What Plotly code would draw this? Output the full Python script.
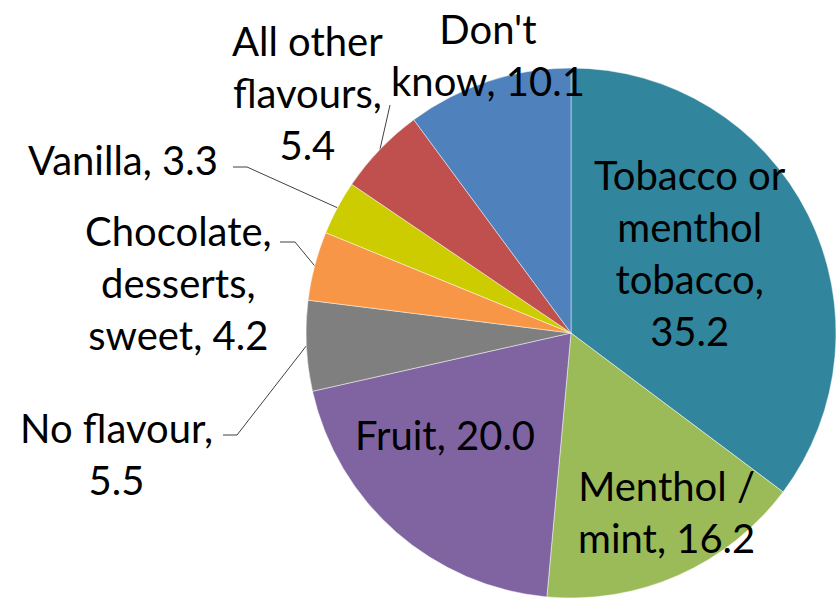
import math
import plotly.graph_objects as go

# Flavour shares (%) in clockwise order from 12 o'clock
categories = [
    "Tobacco or menthol tobacco",
    "Menthol / mint",
    "Fruit",
    "No flavour",
    "Chocolate, desserts, sweet",
    "Vanilla",
    "All other flavours",
    "Don't know",
]
values = [35.2, 16.2, 20.0, 5.5, 4.2, 3.3, 5.4, 10.1]
label_lines = [
    "Tobacco or<br>menthol<br>tobacco,<br>",
    "Menthol /<br>mint,",
    "Fruit,",
    "No flavour,<br>",
    "Chocolate,<br>desserts,<br>sweet,",
    "Vanilla,",
    "All other<br>flavours,<br>",
    "Don't<br>know,",
]
colors = ["#31859C", "#9BBB59", "#8064A2", "#7F7F7F",
          "#F79646", "#CCCC00", "#C0504D", "#4F81BD"]

W, H = 837, 598
FONT = "Lato, Carlito, Calibri, sans-serif"
FS = 40

# Pie geometry (pixels)
CX, CY, R = 571, 333, 265

# Label anchor points (pixels) and leader-line elbows for the outside labels
label_pos = {
    0: (690, 253), 1: (666, 512), 2: (445, 435), 3: (116, 454),
    4: (178, 283), 5: (123, 160), 6: (307, 93), 7: (488, 55),
}
leaders = {
    3: [(223, 435), (237, 435)],
    4: [(280, 242), (295, 242)],
    5: [(233, 167), (247, 167)],
    6: [(390, 105)],
}

fig = go.Figure()
fig.add_trace(go.Pie(
    labels=categories, values=values, sort=False, direction="clockwise",
    rotation=0, textinfo="none", hoverinfo="label+value",
    marker=dict(colors=colors, line=dict(color="rgba(255,255,255,0.6)", width=0.8)),
    domain=dict(x=[(CX - R) / W, (CX + R) / W], y=[(H - CY - R) / H, (H - CY + R) / H]),
    showlegend=False,
))

total = sum(values)
cum = 0.0
mids = []
for v in values:
    mids.append((cum + v / 2) / total * 2 * math.pi)
    cum += v

for i, pts in leaders.items():
    a = mids[i]
    ex, ey = CX + R * math.sin(a), CY - R * math.cos(a)
    xs = [p[0] for p in pts] + [ex]
    ys = [p[1] for p in pts] + [ey]
    fig.add_trace(go.Scatter(x=xs, y=ys, mode="lines",
                             line=dict(color="#404040", width=1),
                             hoverinfo="skip", showlegend=False))

for i, (name, v) in enumerate(zip(label_lines, values)):
    sep = "" if name.endswith("<br>") else " "
    x, y = label_pos[i]
    fig.add_annotation(x=x, y=y, xref="x", yref="y", text=f"{name}{sep}{v:.1f}",
                       showarrow=False, xanchor="center", yanchor="middle",
                       font=dict(family=FONT, size=FS, color="#000000"))

fig.update_xaxes(range=[0, W], visible=False, domain=[0, 1])
fig.update_yaxes(range=[H, 0], visible=False, domain=[0, 1])
fig.update_layout(width=W, height=H, margin=dict(l=0, r=0, t=0, b=0),
                  paper_bgcolor="white", plot_bgcolor="rgba(0,0,0,0)")
fig.write_html("out.html")
